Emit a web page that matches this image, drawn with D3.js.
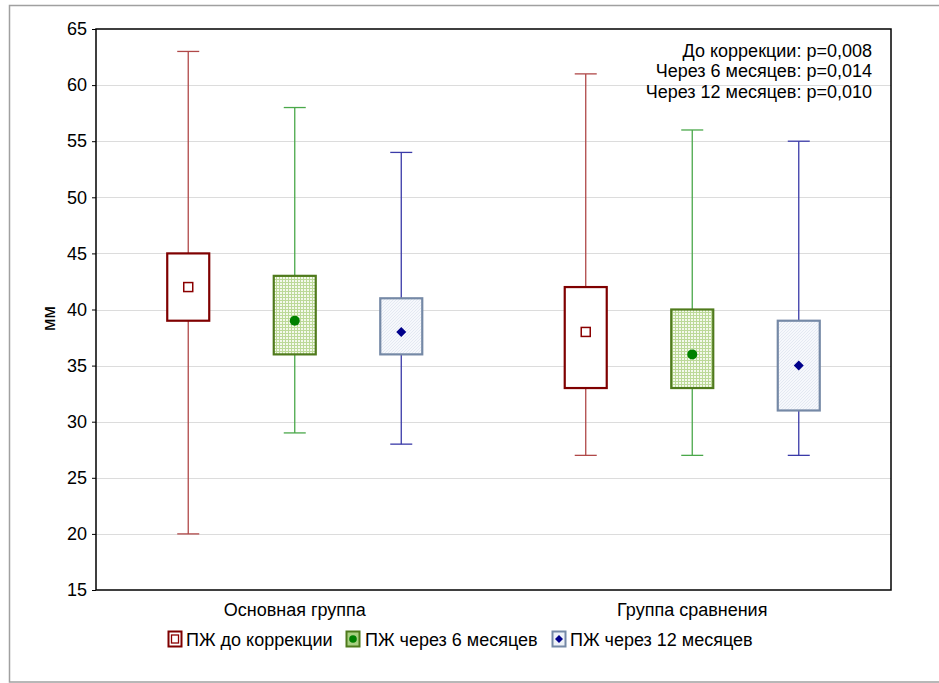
<!DOCTYPE html>
<html>
<head>
<meta charset="utf-8">
<script src="https://cdn.jsdelivr.net/npm/d3@7"></script>
<style>
  html, body { margin: 0; padding: 0; background: #fff; }
  svg { display: block; font-family: "Liberation Sans", Arial, sans-serif; }
</style>
</head>
<body>
<svg id="chart" width="939" height="683"></svg>
<script>
// Groups and series
const groups = ["Основная группа", "Группа сравнения"];
const series = ["ПЖ до коррекции", "ПЖ через 6 месяцев", "ПЖ через 12 месяцев"];

// Box statistics per series, one value per group
const medians = [[42, 38], [39, 36], [38, 35]];
const q1 = [[39, 33], [36, 33], [36, 31]];
const q3 = [[45, 42], [43, 40], [41, 39]];
const mins = [[20, 27], [29, 27], [28, 27]];
const maxs = [[63, 61], [58, 56], [54, 55]];

const yTicks = [15, 20, 25, 30, 35, 40, 45, 50, 55, 60, 65];
const notes = ["До коррекции: p=0,008", "Через 6 месяцев: p=0,014", "Через 12 месяцев: p=0,010"];
const yLabel = "мм";

// Styles per series
const whiskerColor = ["#b04848", "#4aa84a", "#3a3aa8"];
const boxStroke = ["#7f0000", "#4f7a1c", "#7589a6"];
const boxFill = ["#ffffff", "url(#gridGreen)", "url(#hatchBlue)"];

const FS = 18;
const svg = d3.select("#chart");
const margin = { left: 96, top: 29, right: 891, bottom: 590 };

// Fill patterns
const defs = svg.append("defs");
const pg = defs.append("pattern").attr("id", "gridGreen").attr("patternUnits", "userSpaceOnUse")
  .attr("width", 3).attr("height", 3);
pg.append("rect").attr("width", 3).attr("height", 3).attr("fill", "#f4f9ec");
pg.append("path").attr("d", "M0,0.5H3M0.5,0V3").attr("stroke", "#bcd998").attr("stroke-width", 1);
const pb = defs.append("pattern").attr("id", "hatchBlue").attr("patternUnits", "userSpaceOnUse")
  .attr("width", 3).attr("height", 3);
pb.append("rect").attr("width", 3).attr("height", 3).attr("fill", "#f6f8fc");
pb.append("path").attr("d", "M0,3L3,0").attr("stroke", "#dfe5f0").attr("stroke-width", 0.8);

// Outer frame
svg.append("rect").attr("x", 9.5).attr("y", 5.5).attr("width", 960).attr("height", 676.5)
  .attr("fill", "none").attr("stroke", "#a0a0a0").attr("stroke-width", 1.5);

// Scales
const y = d3.scaleLinear().domain([15, 65]).range([margin.bottom, margin.top]);
const x = d3.scaleBand().domain(groups).range([margin.left, margin.right]).padding(0);
const xi = d3.scalePoint().domain(series).range([0, x.bandwidth()]).padding(0.866);

// Grid
svg.append("g").selectAll("line").data(yTicks.slice(1, -1)).join("line")
  .attr("x1", margin.left).attr("x2", margin.right)
  .attr("y1", d => Math.round(y(d)) + 0.5).attr("y2", d => Math.round(y(d)) + 0.5)
  .attr("stroke", "#dcdcdc").attr("stroke-width", 1.2);

// Y axis
const yAxis = svg.append("g").attr("transform", `translate(${margin.left},0)`)
  .call(d3.axisLeft(y).tickValues(yTicks).tickSize(4).tickPadding(5).tickFormat(d3.format("d")));
yAxis.select(".domain").remove();
yAxis.selectAll("line").attr("stroke", "#000");
yAxis.selectAll("text").attr("font-size", FS).attr("fill", "#000")
  .attr("font-family", "Liberation Sans, Arial, sans-serif");

// X axis labels
svg.append("g").attr("transform", `translate(0,${margin.bottom})`)
  .call(d3.axisBottom(x).tickSize(0).tickPadding(13))
  .call(g => g.select(".domain").remove())
  .selectAll("text").attr("font-size", FS).attr("fill", "#000")
  .attr("font-family", "Liberation Sans, Arial, sans-serif");

// Y axis title
svg.append("text").attr("transform", "translate(55,318.5) rotate(-90)")
  .attr("text-anchor", "middle").attr("font-size", FS).text(yLabel);

// Boxes
const boxW = 42, capW = 22;
const records = [];
series.forEach((s, si) => groups.forEach((g, gi) => {
  records.push({ si, gi, cx: x(g) + xi(s), min: mins[si][gi], max: maxs[si][gi],
    q1: q1[si][gi], q3: q3[si][gi], med: medians[si][gi] });
}));

const bx = svg.append("g").selectAll("g").data(records).join("g");
// whisker lines
bx.append("line").attr("x1", d => d.cx).attr("x2", d => d.cx)
  .attr("y1", d => y(d.max)).attr("y2", d => y(d.min))
  .attr("stroke", d => whiskerColor[d.si]).attr("stroke-width", 1.3);
bx.append("line").attr("x1", d => d.cx - capW / 2).attr("x2", d => d.cx + capW / 2)
  .attr("y1", d => y(d.max)).attr("y2", d => y(d.max))
  .attr("stroke", d => whiskerColor[d.si]).attr("stroke-width", 1.3);
bx.append("line").attr("x1", d => d.cx - capW / 2).attr("x2", d => d.cx + capW / 2)
  .attr("y1", d => y(d.min)).attr("y2", d => y(d.min))
  .attr("stroke", d => whiskerColor[d.si]).attr("stroke-width", 1.3);
// box
bx.append("rect").attr("x", d => d.cx - boxW / 2).attr("width", boxW)
  .attr("y", d => y(d.q3)).attr("height", d => y(d.q1) - y(d.q3))
  .attr("fill", d => boxFill[d.si]).attr("stroke", d => boxStroke[d.si]).attr("stroke-width", 2.2);

// median markers
function marker(sel, si, cx, cy) {
  if (si === 0) {
    sel.append("rect").attr("x", cx - 4.5).attr("y", cy - 4.5).attr("width", 9).attr("height", 9)
      .attr("fill", "#fff").attr("stroke", "#8b0000").attr("stroke-width", 1.5);
  } else if (si === 1) {
    sel.append("circle").attr("cx", cx).attr("cy", cy).attr("r", 5).attr("fill", "#008000");
  } else {
    sel.append("path").attr("d", `M${cx},${cy - 5}L${cx + 5},${cy}L${cx},${cy + 5}L${cx - 5},${cy}Z`)
      .attr("fill", "#00008b");
  }
}
bx.each(function (d) { marker(d3.select(this), d.si, d.cx, y(d.med)); });

// Plot frame
svg.append("rect").attr("x", margin.left).attr("y", margin.top)
  .attr("width", margin.right - margin.left).attr("height", margin.bottom - margin.top)
  .attr("fill", "none").attr("stroke", "#000").attr("stroke-width", 1.5);

// Notes
svg.append("g").selectAll("text").data(notes).join("text")
  .attr("x", 872).attr("y", (d, i) => 56.5 + i * 20.5)
  .attr("text-anchor", "end").attr("font-size", FS).text(d => d);

// Legend
const legendBoxX = [168, 346, 552];
const legendTextX = [186, 365, 570];
const lg = svg.append("g").selectAll("g").data(series).join("g");
lg.append("rect").attr("x", (d, i) => legendBoxX[i] + 0.5).attr("y", 631.5).attr("width", 13).attr("height", 15)
  .attr("fill", (d, i) => i === 1 ? "#a8d080" : (i === 2 ? "#eef2f8" : "#fff"))
  .attr("stroke", (d, i) => boxStroke[i]).attr("stroke-width", 2);
lg.each(function (d, i) {
  const g = d3.select(this);
  const cx = legendBoxX[i] + 7, cy = 639;
  if (i === 0) {
    g.append("rect").attr("x", cx - 3.5).attr("y", cy - 4).attr("width", 7).attr("height", 8)
      .attr("fill", "#fff").attr("stroke", "#8b0000").attr("stroke-width", 1.3);
  } else if (i === 1) {
    g.append("circle").attr("cx", cx).attr("cy", cy).attr("r", 3.8).attr("fill", "#008000");
  } else {
    g.append("path").attr("d", `M${cx},${cy - 4}L${cx + 4},${cy}L${cx},${cy + 4}L${cx - 4},${cy}Z`)
      .attr("fill", "#00008b");
  }
});
lg.append("text").attr("x", (d, i) => legendTextX[i]).attr("y", 645.5).attr("font-size", FS).text(d => d);
</script>
</body>
</html>
